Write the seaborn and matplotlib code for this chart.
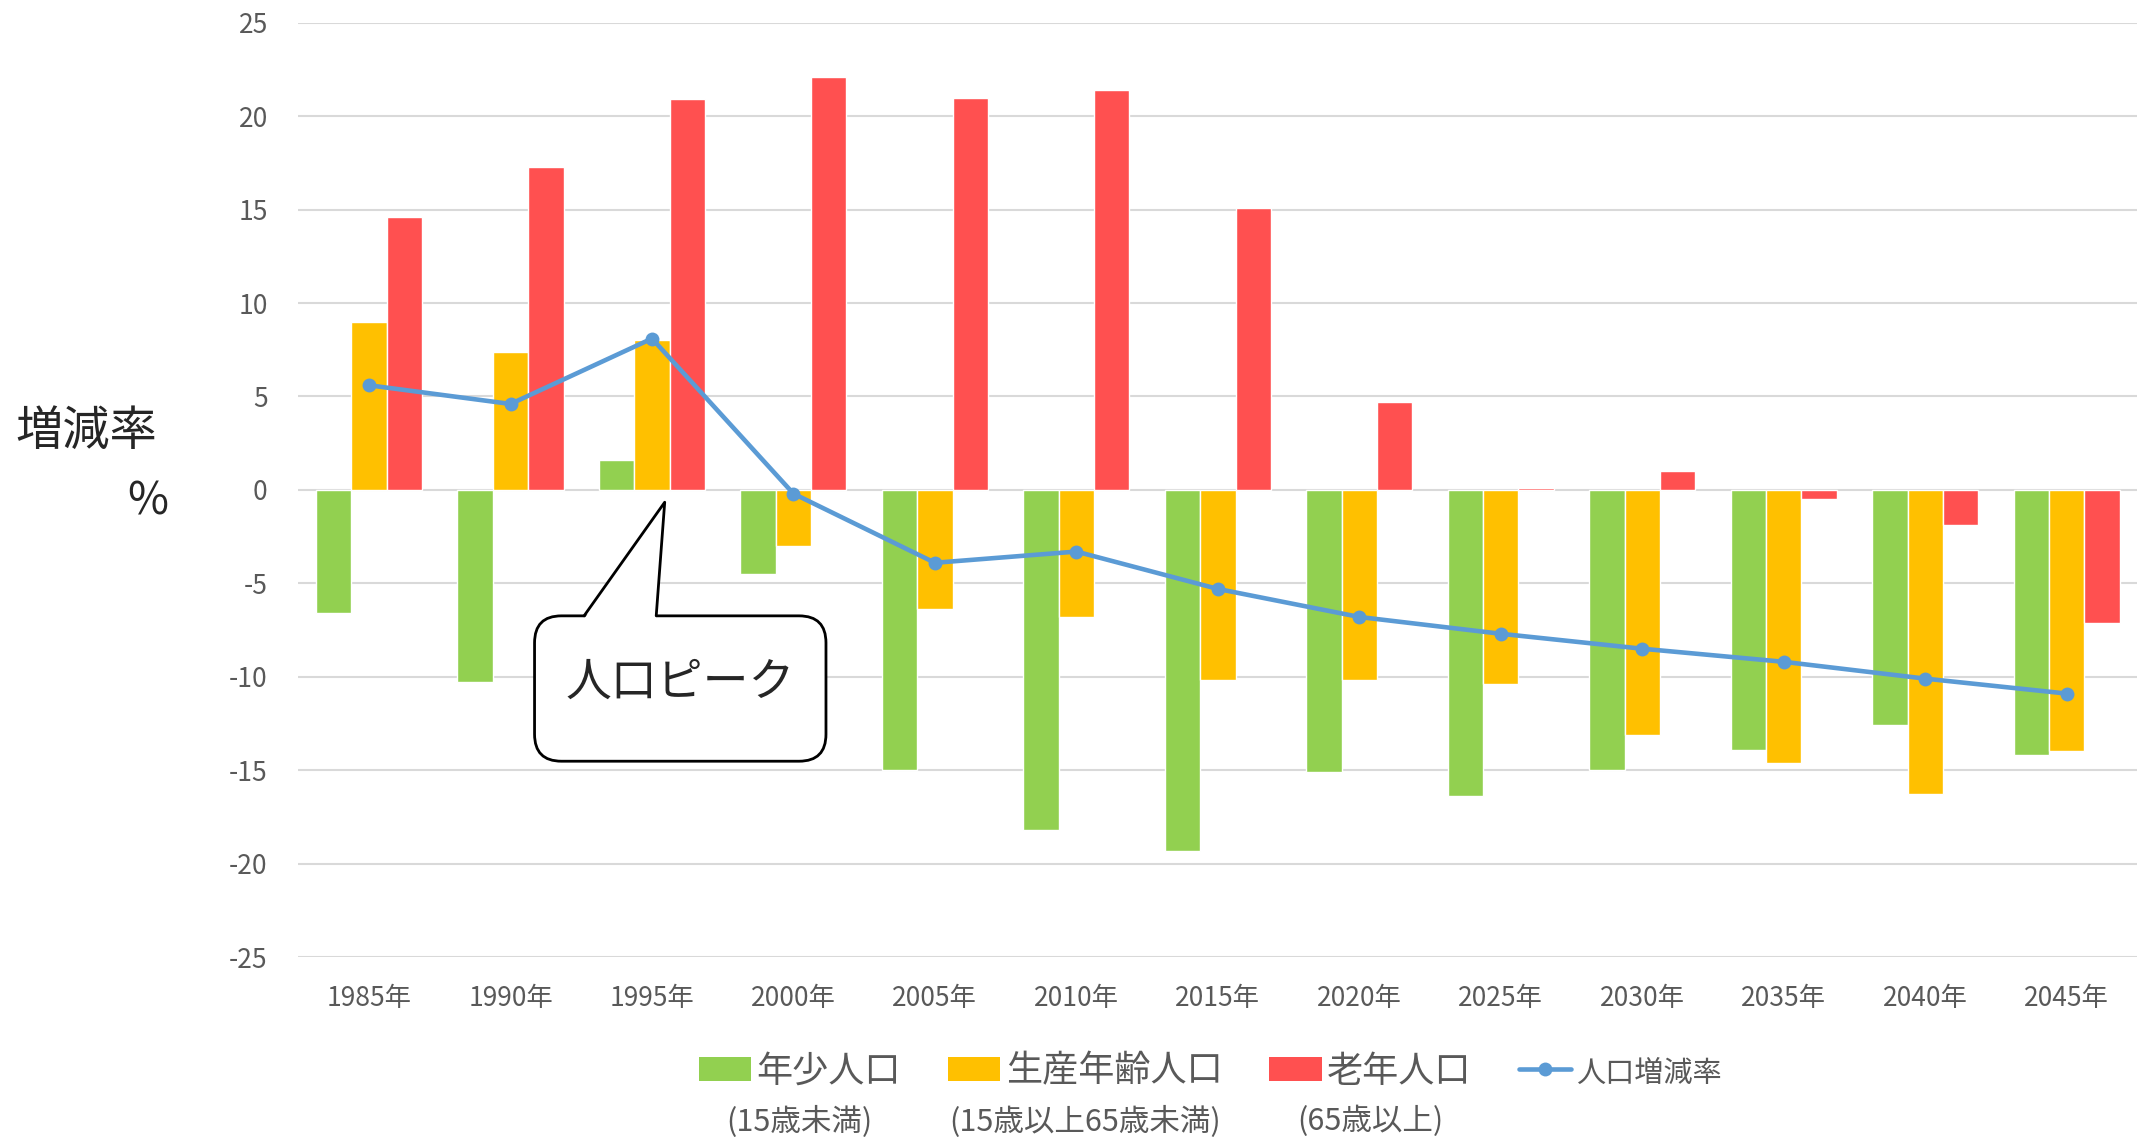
# Bevölkerungsveränderung nach Altersgruppen (Balken) + Gesamtrate (Linie)

import pandas as pd
import matplotlib.pyplot as plt
import seaborn as sns
import numpy as np
from matplotlib.patches import Patch, FancyBboxPatch, Polygon
from matplotlib.lines import Line2D

# Daten
years = ["1985年", "1990年", "1995年", "2000年", "2005年", "2010年", "2015年",
         "2020年", "2025年", "2030年", "2035年", "2040年", "2045年"]
young = [-6.6, -10.3, 1.6, -4.5, -15.0, -18.2, -19.3, -15.1, -16.4, -15.0, -13.9, -12.6, -14.2]
working = [9.0, 7.4, 8.0, -3.0, -6.4, -6.8, -10.2, -10.2, -10.4, -13.1, -14.6, -16.3, -14.0]
old = [14.6, 17.3, 20.9, 22.1, 21.0, 21.4, 15.1, 4.7, 0.1, 1.0, -0.5, -1.9, -7.1]
total_rate = [5.6, 4.6, 8.1, -0.2, -3.9, -3.3, -5.3, -6.8, -7.7, -8.5, -9.2, -10.1, -10.9]

groups = ["年少人口", "生産年齢人口", "老年人口"]
group_notes = ["(15歳未満)", "(15歳以上65歳未満)", "(65歳以上)"]
colors = ["#92D050", "#FFC000", "#FF5050"]
line_color = "#5B9BD5"

df = pd.DataFrame({
    "year": years * 3,
    "group": [groups[0]] * 13 + [groups[1]] * 13 + [groups[2]] * 13,
    "value": young + working + old,
})

sns.set_theme(style="white")
plt.rcParams["font.family"] = ["Noto Sans CJK JP", "DejaVu Sans"]
plt.rcParams["axes.unicode_minus"] = False

fig = plt.figure(figsize=(21.46, 11.40), dpi=100)
ax = fig.add_axes([0.139, 0.1605, 0.857, 0.8195])

# Balken
sns.barplot(data=df, x="year", y="value", hue="group", order=years,
            hue_order=groups, palette=colors, width=0.75, gap=0,
            saturation=1, legend=False, ax=ax, zorder=2)

# Linie
sns.lineplot(x=np.arange(len(years)), y=total_rate, color=line_color,
             linewidth=3.3, marker="o", markersize=10, markeredgewidth=0,
             ax=ax, zorder=4)

ax.set_ylim(-25, 25)
ax.set_xlim(-0.5, len(years) - 0.5)
ax.set_yticks(np.arange(-25, 26, 5))
ax.set_xlabel("")
ax.set_ylabel("")
ax.grid(axis="y", color="#D9D9D9", linewidth=1.5, zorder=0)
ax.grid(axis="x", visible=False)
ax.set_axisbelow(True)
for s in ax.spines.values():
    s.set_visible(False)
ax.tick_params(axis="y", length=0, pad=22, labelsize=19, labelcolor="#595959")
ax.tick_params(axis="x", length=0, pad=20, labelsize=19, labelcolor="#595959")

# y-Achsenbeschriftung
fig.text(0.040, 0.621, "増減率", fontsize=34, ha="center", va="center")
fig.text(0.069, 0.560, "%", fontsize=32, ha="center", va="center")

# Sprechblase "人口ピーク"
box = FancyBboxPatch((1.17, -14.52), 2.06, 7.78,
                     boxstyle="round,pad=0,rounding_size=0.19",
                     mutation_aspect=7.6, facecolor="white",
                     edgecolor="black", linewidth=2, zorder=5)
ax.add_patch(box)
wedge = Polygon([(1.52, -6.9), (2.09, -0.66), (2.03, -6.9)], closed=True,
                facecolor="white", edgecolor="none", zorder=6)
ax.add_patch(wedge)
ax.plot([1.52, 2.09, 2.03], [-6.74, -0.66, -6.74], color="black",
        linewidth=2, zorder=7)
ax.text(2.20, -10.3, "人口ピーク", fontsize=33, ha="center", va="center",
        zorder=8)

# Legende
handles = [Patch(facecolor=c, edgecolor="none") for c in colors]
handles.append(Line2D([0], [0], color=line_color, linewidth=3.3, marker="o",
                      markersize=10, markeredgewidth=0))
labels = groups + ["人口増減率"]
leg = fig.legend(handles, labels, loc="center", bbox_to_anchor=(0.564, 0.060),
                 ncol=4, frameon=False, fontsize=26, handlelength=1.45,
                 handleheight=0.65, handletextpad=0.15, columnspacing=1.3)
for t in leg.get_texts():
    t.set_color("#595959")
leg.get_texts()[3].set_fontsize(21)

# zweite Zeile unter den Legendeneinträgen
fig.canvas.draw()
renderer = fig.canvas.get_renderer()
inv = fig.transFigure.inverted()
for i, note in enumerate(group_notes):
    hb = leg.legend_handles[i].get_window_extent(renderer)
    tb = leg.get_texts()[i].get_window_extent(renderer)
    xc = (hb.x0 + tb.x1) / 2
    x_fig, _ = inv.transform((xc, 0))
    fig.text(x_fig, 0.016, note, fontsize=22, ha="center", va="center",
             color="#595959")

plt.savefig("out.png", dpi=100)
